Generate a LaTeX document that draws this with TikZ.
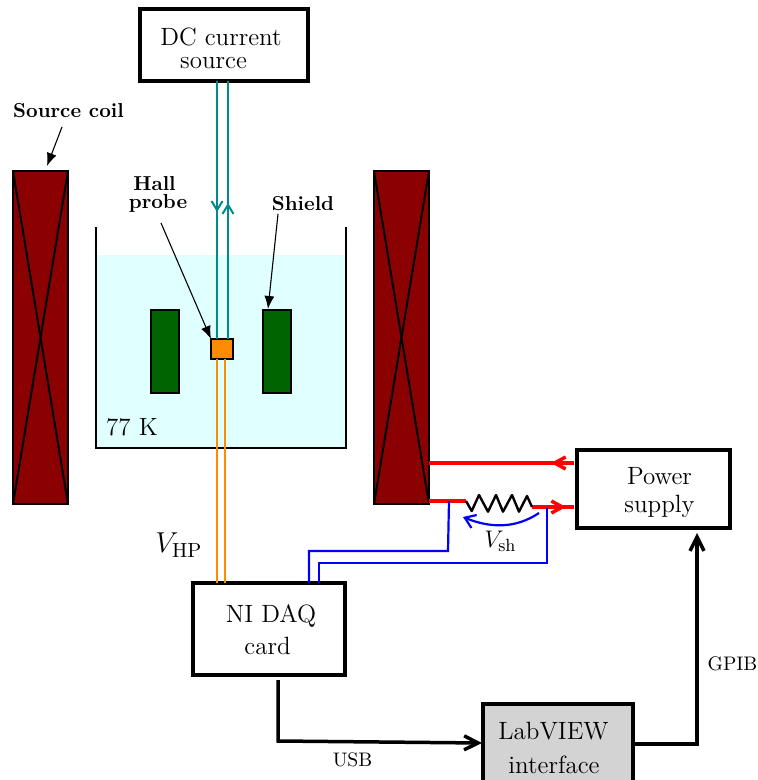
\documentclass[tikz,border=0pt]{standalone}
\usepackage{amsmath}
\usetikzlibrary{arrows.meta}
\tikzset{
	boxnode/.style={draw, line width=1.75pt, fill=white, rectangle, outer sep=0pt, inner sep=0pt},
	coilnode/.style={draw, line width=1pt, fill=coilred, rectangle, outer sep=0pt, inner sep=0pt, minimum width=27.5pt, minimum height=166.5pt},
	shieldnode/.style={draw, line width=1pt, fill=shieldgreen, rectangle, outer sep=0pt, inner sep=0pt, minimum width=14pt, minimum height=41.5pt},
	boxtext/.style={font=\fontsize{12.5}{15}\selectfont, inner sep=0pt},
	boldtext/.style={font=\fontsize{10.1}{12}\selectfont\bfseries, inner sep=0pt},
	smalltext/.style={font=\fontsize{9.8}{12}\selectfont, inner sep=0pt},
	pointer/.style={line width=0.55pt, -{Latex[length=6.5pt,width=5pt]}},
	thickarrow/.style={line width=1.75pt, -{Straight Barb[length=7pt,width=7pt]}},
	redwire/.style={line width=1.75pt, color=red},
	redtip/.style={line width=1.75pt, color=red, -{Straight Barb[length=5.5pt,width=6pt]}},
	tealwire/.style={line width=1pt, color=leadteal},
	tealtip/.style={line width=1pt, color=leadteal, -{Straight Barb[length=4.5pt,width=5.5pt]}},
	wire/.style={line width=1.1pt}
}
\definecolor{coilred}{HTML}{8B0000}
\definecolor{shieldgreen}{HTML}{006400}
\definecolor{probeorange}{HTML}{FF8C00}
\definecolor{leadteal}{HTML}{008B8B}
\definecolor{bathcyan}{HTML}{E0FFFF}
\definecolor{boxgray}{HTML}{D3D3D3}
\begin{document}
\begin{tikzpicture}[x=0.5pt, y=-0.5pt]
		%%%%% START %%%%%
		\useasboundingbox (0, 0) rectangle (758, 780);
		
		% bath
		\fill[bathcyan] (96, 255) rectangle (346, 448);
		\draw[line width=0.9pt] (96, 227) -- (96, 448) -- (346, 448) -- (346, 227);
		\node (kelvin) [boxtext, anchor=base] at (132, 435) {77 K};
		
		% coils
		\node (coilL) [coilnode] at (40.5, 337.5) {};
		\draw[line width=1pt] (coilL.north west) -- (coilL.south east);
		\draw[line width=1pt] (coilL.north east) -- (coilL.south west);
		\node (coilR) [coilnode] at (401.5, 337.5) {};
		\draw[line width=1pt] (coilR.north west) -- (coilR.south east);
		\draw[line width=1pt] (coilR.north east) -- (coilR.south west);
		
		% shield and probe
		\node (shieldL) [shieldnode] at (165, 351.5) {};
		\node (shieldR) [shieldnode] at (276.5, 351.5) {};
		\node (probe) [draw, line width=1pt, fill=probeorange, outer sep=0pt, inner sep=0pt, minimum width=11pt, minimum height=10pt] at (222, 349) {};
		
		% boxes
		\node (dcsource) [boxnode, minimum width=84pt, minimum height=36pt] at (224, 45) {};
		\node (nidaq) [boxnode, minimum width=76pt, minimum height=46pt] at (269, 629) {};
		\node (labview) [boxnode, fill=boxgray, minimum width=75pt, minimum height=40pt] at (558, 744) {};
		\node (power) [boxnode, minimum width=76.5pt, minimum height=39pt] at (653.5, 489) {};
		
		% box texts
		\node (dctextA) [boxtext, anchor=base] at (221, 46) {DC current};
		\node (dctextB) [boxtext, anchor=base] at (213.5, 69) {source};
		\node (daqtextA) [boxtext, anchor=base] at (271, 622) {NI DAQ};
		\node (daqtextB) [boxtext, anchor=base] at (267.5, 654) {card};
		\node (lvtextA) [boxtext, anchor=base] at (553.5, 739) {LabVIEW};
		\node (lvtextB) [boxtext, anchor=base] at (554, 773) {interface};
		\node (pwtextA) [boxtext, anchor=base] at (659.5, 484) {Power};
		\node (pwtextB) [boxtext, anchor=base] at (659.5, 512) {supply};
		
		% bold labels
		\node (coillabel) [boldtext] at (68.5, 111) {Source coil};
		\node (hallA) [boldtext] at (154.5, 184) {Hall};
		\node (hallB) [boldtext] at (158, 203.5) {probe};
		\node (shieldlabel) [boldtext] at (303, 203.5) {Shield};
		\coordinate (shieldtip) at (268, 309);
		\draw[pointer] (62, 127) -- (47, 166);
		\draw[pointer] (161, 223) -- (probe.north west);
		\draw[pointer] (278, 214) -- (shieldtip);
		
		% teal leads
		\coordinate (tealA) at (217, 212);
		\coordinate (tealB) at (228, 203);
		\draw[tealwire] (tealA |- dcsource.south) -- (tealA |- probe.north);
		\draw[tealtip] (tealA |- dcsource.south) -- (tealA);
		\draw[tealwire] (tealB |- probe.north) -- (tealB |- dcsource.south);
		\draw[tealtip] (tealB |- probe.north) -- (tealB);
		
		% orange leads
		\coordinate (hallvA) at (217, 359);
		\coordinate (hallvB) at (224.5, 359);
		\draw[line width=1pt, color=probeorange] (hallvA) -- (hallvA |- nidaq.north);
		\draw[line width=1pt, color=probeorange] (hallvB) -- (hallvB |- nidaq.north);
		\node (vhp) [font=\fontsize{14.6}{17}\selectfont, inner sep=0pt] at (179, 545) {$V_{\text{HP}}$};
		
		% red circuit
		\coordinate (redtop) at (429, 463);
		\coordinate (redtopend) at (574, 463);
		\coordinate (redtiptop) at (551, 463);
		\coordinate (redlow) at (429, 501);
		\coordinate (resA) at (466, 501);
		\coordinate (resB) at (532, 507);
		\coordinate (redtiplow) at (566, 507);
		\coordinate (redlowend) at (574, 507);
		\draw[redwire] (redtopend) -- (redtop);
		\draw[redtip] (redtopend) -- (redtiptop);
		\draw[redwire] (redlow) -- (resA);
		\draw[redwire] (resB) -- (redlowend);
		\draw[redtip] (resB) -- (redtiplow);
		\draw[line width=1.2pt, line join=round] (resA) -- (471.7, 511) -- (479, 495) -- (488, 511.7) -- (496, 495) -- (503, 511.7) -- (512, 495) -- (519, 511.7) -- (527, 496) -- (resB);
		
		% blue sense wires
		\coordinate (senseA) at (309, 551);
		\coordinate (senseB) at (319, 563);
		\draw[wire, color=blue] (449, 501) -- (448, 551) -- (senseA) -- (senseA |- nidaq.north);
		\draw[wire, color=blue] (547, 508) -- (547, 563) -- (senseB) -- (senseB |- nidaq.north);
		\draw[wire, color=blue, -{Straight Barb[length=5pt,width=7pt]}] (539, 513) .. controls (515, 529) and (490, 528) .. (463, 517);
		\node (vsh) [font=\fontsize{12.6}{15}\selectfont, inner sep=0pt] at (500.5, 541) {$V_{\text{sh}}$};
		
		% data links
		\coordinate (usbstart) at (278, 680);
		\coordinate (usbcorner) at (278, 741);
		\coordinate (usbend) at (482, 743);
		\draw[thickarrow] (usbstart) -- (usbcorner) -- (usbend);
		\node (usblabel) [smalltext] at (352.5, 760) {USB};
		\coordinate (gpibcorner) at (697, 744);
		\coordinate (gpibend) at (697, 533);
		\draw[thickarrow] (labview.east |- gpibcorner) -- (gpibcorner) -- (gpibend);
		\node (gpiblabel) [smalltext] at (732.5, 664) {GPIB};
		
		%%%%% END %%%%%
	\end{tikzpicture}
\end{document}
